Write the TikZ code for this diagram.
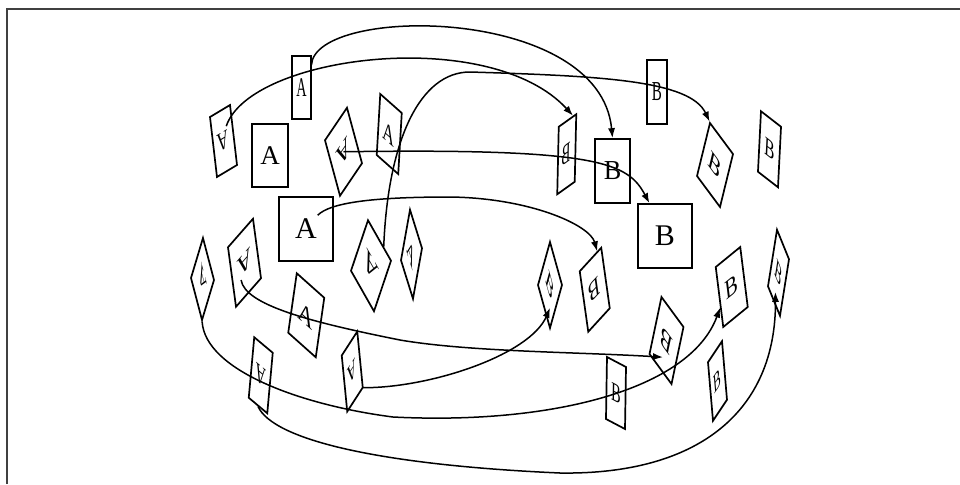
\documentclass[tikz,border=0pt]{standalone}
\usepackage{fontspec}
\setmainfont{Liberation Serif}
\usepackage{tikz}
\usetikzlibrary{arrows.meta,calc}

\begin{document}
\begin{tikzpicture}[
  x=0.5pt, y=-0.5pt,
  card/.style={draw, line width=0.85pt, minimum width=18pt, minimum height=31.5pt, inner sep=0pt, font=\fontsize{13.5}{13.5}\selectfont},
  bigcard/.style={card, minimum width=27pt, minimum height=32pt, font=\fontsize{15}{15}\selectfont},
  arrow/.style={-{Latex[length=5pt,width=3.6pt]}, line width=0.75pt}
]
\useasboundingbox (0,0) rectangle (960,484);
\draw[line width=1pt, black!75] (7,484) -- (7,9) -- (960,9);

% cards with A
\node[card, cm={0.528,0,0,1,(0,0)}] (a1) at (301.5,87.5) {A};
\node[card, cm={-0.556,-0.333,0.111,-0.952,(0,0)}] (a2) at (223.5,141) {A};
\node[card] (a3) at (270,155.5) {A};
\node[card, cm={-0.611,-0.903,0.238,-0.881,(0,0)}] (a4) at (343.5,151.75) {A};
\node[card, cm={0.597,-0.528,0.056,0.968,(0,0)}] (a5) at (389.25,134) {A};
\node[bigcard] (a6) at (306,229) {A};
\node[card, cm={-0.306,1.167,-0.190,-0.635,(0,0)}] (a7) at (202.5,279) {A};
\node[card, cm={-0.694,-0.792,0.127,-0.944,(0,0)}] (a8) at (244.5,262.75) {A};
\node[card, cm={-0.639,1.125,-0.270,-0.802,(0,0)}] (a9) at (371,265.75) {A};
\node[card, cm={0.333,-1.069,0.143,0.802,(0,0)}] (a10) at (411.5,254.25) {A};
\node[card, cm={0.764,-0.681,0.135,0.944,(0,0)}] (a11) at (306.25,315.25) {A};
\node[card, cm={-0.514,0.431,-0.087,-0.960,(0,0)}] (a12) at (260.75,375.25) {A};
\node[card, cm={-0.431,-0.667,0.087,-0.889,(0,0)}] (a13) at (352.25,371.5) {A};

% cards with B
\node[card, cm={-0.486,-0.347,0.024,1.071,(0,0)}] (b1) at (566.75,154.25) {B};
\node[card, cm={0.972,0,0,1.016,(0,0)}] (b2) at (612.5,171) {B};
\node[card, cm={0.556,0,0,1.016,(0,0)}] (b3) at (657,92) {B};
\node[card, cm={0.639,-0.861,0.206,0.841,(0,0)}] (b4) at (715,165) {B};
\node[card, cm={0.556,-0.431,0.048,0.960,(0,0)}] (b5) at (769.5,149.25) {B};
\node[bigcard] (b6) at (665,236) {B};
\node[card, cm={0.333,-1.194,0.190,0.683,(0,0)}] (b7) at (550,285) {B};
\node[card, cm={-0.597,-0.653,0.135,-0.960,(0,0)}] (b8) at (594.75,289.75) {B};
\node[card, cm={-0.611,0.833,-0.190,-0.905,(0,0)}] (b9) at (666.5,340.5) {B};
\node[card, cm={0.681,0.556,-0.119,0.952,(0,0)}] (b10) at (731.75,287) {B};
\node[card, cm={0.333,-0.819,0.143,0.897,(0,0)}] (b11) at (778.5,272.75) {B};
\node[card, cm={0.528,-0.278,0.016,0.984,(0,0)}] (b12) at (616,393) {B};
\node[card, cm={0.389,0.583,-0.079,0.929,(0,0)}] (b13) at (717.5,381) {B};

% matching A -> B
\draw[arrow] ($(a1.north east)!0.15!(a1.south east)$) .. controls (315,5) and (600,5) .. (b2.north);
\draw[arrow] ($(a2.center)!0.4!(a2.south west)$) .. controls (250,55) and (490,25) .. ($(b1.north)!0.6!(b1.north west)$);
\draw[arrow] ($(a9.south)!0.33!(a9.south west)$) .. controls (388,140) and (420,72) .. (470,72)
  .. controls (600,76) and (690,80) .. (b4.north west);
\draw[arrow] (a4.center) .. controls (600,148) and (628,163) .. ($(b6.north west)!0.22!(b6.north east)$);
\draw[arrow] ($(a6.center)!0.42!(a6.north east)$) .. controls (330,203) and (370,197) .. (450,197)
  .. controls (530,198) and (590,225) .. ($(b8.south)!0.6!(b8.south west)$);
\draw[arrow] ($(a8.center)!0.38!(a8.north east)$) .. controls (245,305) and (310,322) .. (400,340)
  .. controls (470,352) and (580,352) .. ($(b9.center)!0.57!(b9.north)$);
\draw[arrow] (a13.north west) .. controls (430,388) and (530,355) .. ($(b7.center)!0.51!(b7.south east)$);
\draw[arrow] (a7.north west) .. controls (205,370) and (300,405) .. (393,417)
  .. controls (550,425) and (690,390) .. ($(b10.west)!0.33!(b10.south west)$);
\draw[arrow] (a12.north) .. controls (273,440) and (380,465) .. (560,473)
  .. controls (700,475) and (776,410) .. ($(b11.center)!0.66!(b11.south)$);
\end{tikzpicture}
\end{document}
